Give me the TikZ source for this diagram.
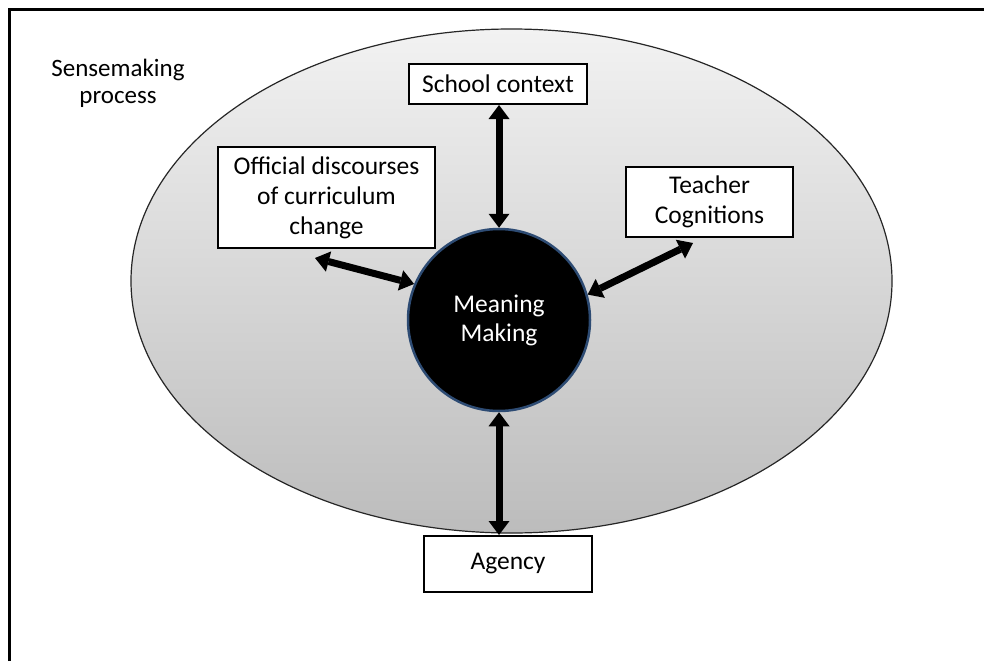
\documentclass[tikz,border=0pt]{standalone}
\usepackage{fontspec}
\setmainfont{Carlito}
\usetikzlibrary{arrows.meta,calc}
\definecolor{glowblue}{RGB}{45,75,115}
\definecolor{elltop}{RGB}{242,242,242}
\definecolor{ellbot}{RGB}{188,188,188}
\tikzset{
  box/.style={draw=black, line width=2pt, fill=white, align=center, inner sep=0pt,
              font=\fontsize{25.5}{30}\selectfont},
  label/.style={align=center, inner sep=0pt, font=\fontsize{25}{27}\selectfont},
  dbl/.style={draw=black, line width=7pt,
              {Triangle[width=21pt,length=14pt,line width=0pt,fill=black]}-{Triangle[width=21pt,length=14pt,line width=0pt,fill=black]}}
}
\begin{document}
\begin{tikzpicture}[x=1pt,y=-1pt]
\useasboundingbox (0,0) rectangle (984,661);
\fill[white] (0,0) rectangle (984,661);
% frame
\draw[line width=3pt] (9.5,661) -- (9.5,9.5) -- (984,9.5);
% ellipse
\draw[line width=1.2pt, draw=black!85, top color=elltop, bottom color=ellbot]
  (511.5,281) ellipse [x radius=380.5pt, y radius=252pt];
\node[label] (sense) at (118,83) {Sensemaking\\process};
% nodes
\node[circle, fill=black, draw=glowblue, line width=2.5pt, minimum size=182pt,
      text=white, align=center, font=\fontsize{25.5}{29}\selectfont] (mm) at (499,320) {Meaning\\Making};
\node[box, minimum width=178pt, minimum height=40pt] (school) at (498,84) {School context};
\node[box, minimum width=217pt, minimum height=101pt] (official) at (326.5,197.5) {Official discourses\\of curriculum\\change};
\node[box, minimum width=167pt, minimum height=70pt] (teacher) at (709.5,202) {Teacher\\Cognitions};
\node[box, minimum width=168pt, minimum height=56pt] (agency) at (508,564) {Agency};
% free ends
\coordinate (offtip) at (315,258);
\coordinate (teatip) at (693,243);
% connectors
\draw[dbl] (school.south -| mm.north) -- (mm.north);
\draw[dbl] (offtip) -- (mm.157);
\draw[dbl] (teatip) -- (mm.16);
\draw[dbl] (mm.south) -- (mm.south |- agency.north);
\end{tikzpicture}
\end{document}
